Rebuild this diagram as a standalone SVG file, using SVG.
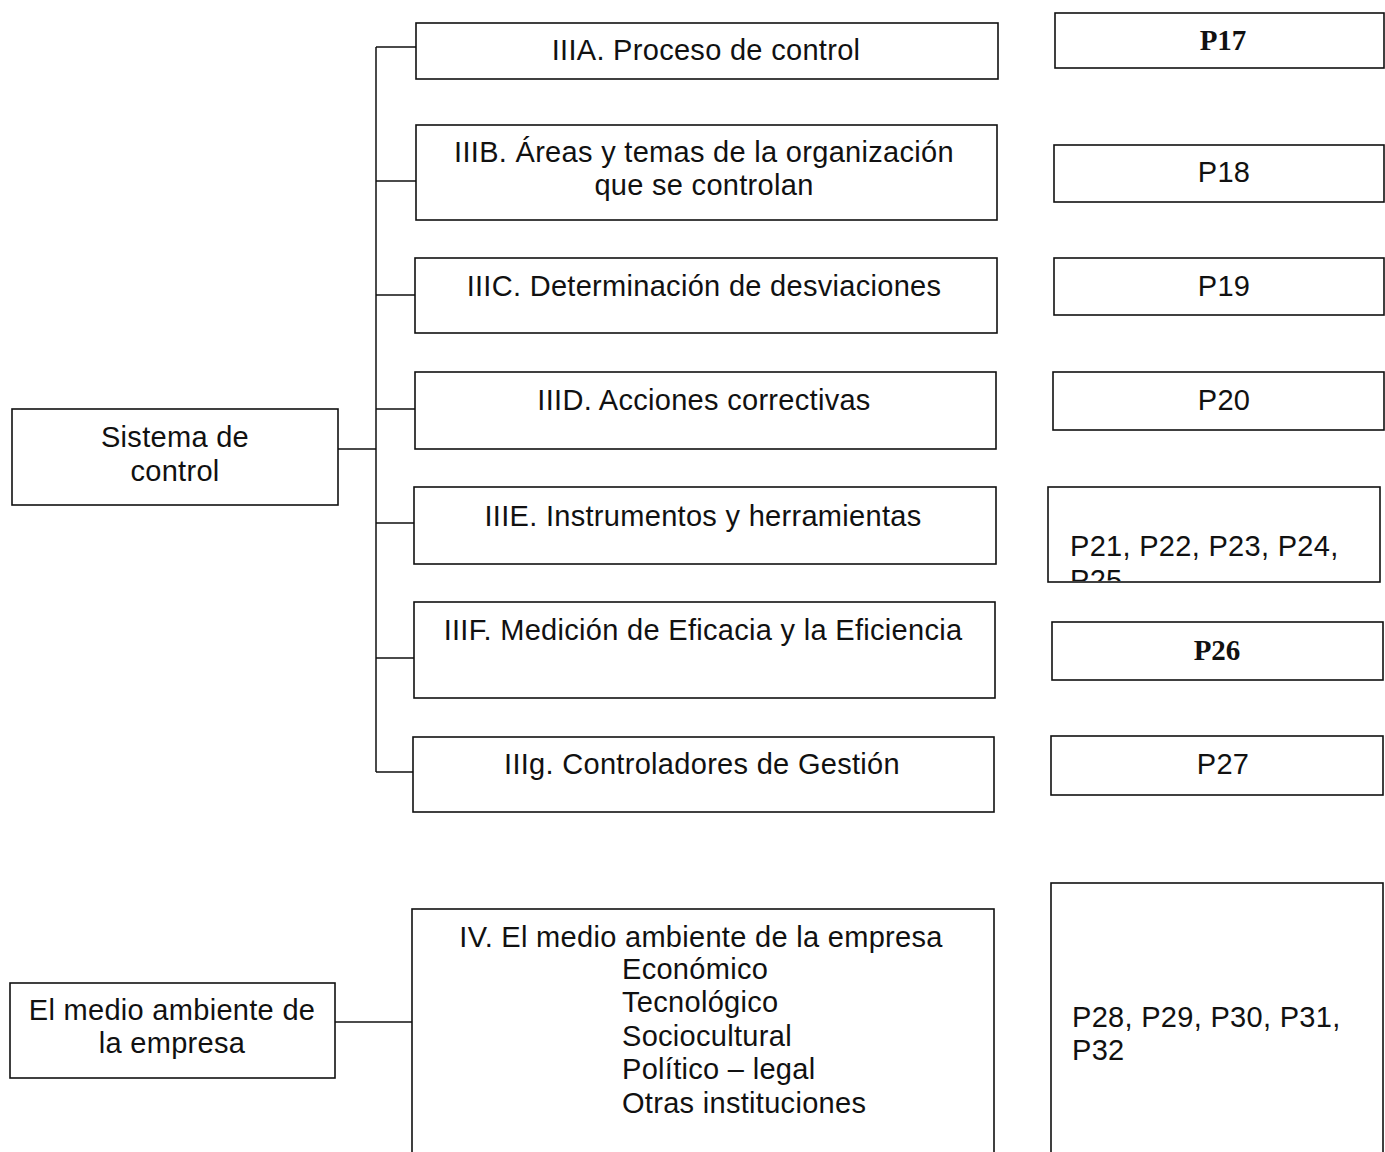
<svg xmlns="http://www.w3.org/2000/svg" width="1385" height="1152" viewBox="0 0 1385 1152">
<style>
.box{fill:#fff;stroke:#111;stroke-width:1.6}
.t{font-family:"Liberation Sans",Arial,sans-serif;font-size:29px;letter-spacing:0.3px;fill:#111}
.s{font-family:"Liberation Serif","Times New Roman",serif;font-size:29px;font-weight:bold;fill:#111}
.c{text-anchor:middle}
.ln{fill:none;stroke:#111;stroke-width:1.5}
</style>
<defs>
<clipPath id="clipP21"><rect x="1048" y="487" width="332" height="94"/></clipPath>
</defs>
<rect width="1385" height="1152" fill="#fff"/>
<g id="connectors">
<path class="ln" d="M338 449 H376 M376 47 V772 M376 47 H416 M376 181 H416 M376 295 H415 M376 409 H415 M376 523 H414 M376 658 H414 M376 772 H413"/>
<path class="ln" d="M335 1022 H412"/>
</g>
<g id="sistema">
<rect class="box" x="12" y="409" width="326" height="96"/>
<text class="t c" x="175" y="447">Sistema de</text>
<text class="t c" x="175" y="481">control</text>
</g>
<g id="medio">
<rect class="box" x="10" y="983" width="325" height="95"/>
<text class="t c" x="172" y="1020">El medio ambiente de</text>
<text class="t c" x="172" y="1053">la empresa</text>
</g>
<g id="IIIA">
<rect class="box" x="416" y="23" width="582" height="56"/>
<text class="t c" x="706" y="60">IIIA. Proceso de control</text>
</g>
<g id="IIIB">
<rect class="box" x="416" y="125" width="581" height="95"/>
<text class="t c" x="704" y="162">IIIB. Áreas y temas de la organización</text>
<text class="t c" x="704" y="195">que se controlan</text>
</g>
<g id="IIIC">
<rect class="box" x="415" y="258" width="582" height="75"/>
<text class="t c" x="704" y="296">IIIC. Determinación de desviaciones</text>
</g>
<g id="IIID">
<rect class="box" x="415" y="372" width="581" height="77"/>
<text class="t c" x="704" y="410">IIID. Acciones correctivas</text>
</g>
<g id="IIIE">
<rect class="box" x="414" y="487" width="582" height="77"/>
<text class="t c" x="703" y="526">IIIE. Instrumentos y herramientas</text>
</g>
<g id="IIIF">
<rect class="box" x="414" y="602" width="581" height="96"/>
<text class="t c" x="703" y="640">IIIF. Medición de Eficacia y la Eficiencia</text>
</g>
<g id="IIIg">
<rect class="box" x="413" y="737" width="581" height="75"/>
<text class="t c" x="702" y="774">IIIg. Controladores de Gestión</text>
</g>
<g id="IV">
<rect class="box" x="412" y="909" width="582" height="260"/>
<text class="t c" x="701" y="947">IV. El medio ambiente de la empresa</text>
<text class="t" x="622" y="979">Económico</text>
<text class="t" x="622" y="1012">Tecnológico</text>
<text class="t" x="622" y="1046">Sociocultural</text>
<text class="t" x="622" y="1079">Político – legal</text>
<text class="t" x="622" y="1113">Otras instituciones</text>
</g>
<g id="P17">
<rect class="box" x="1055" y="13" width="329" height="55"/>
<text class="s c" x="1223" y="50">P17</text>
</g>
<g id="P18">
<rect class="box" x="1054" y="145" width="330" height="57"/>
<text class="t c" x="1224" y="182">P18</text>
</g>
<g id="P19">
<rect class="box" x="1054" y="258" width="330" height="57"/>
<text class="t c" x="1224" y="296">P19</text>
</g>
<g id="P20">
<rect class="box" x="1053" y="372" width="331" height="58"/>
<text class="t c" x="1224" y="410">P20</text>
</g>
<g id="P21">
<rect class="box" x="1048" y="487" width="332" height="95"/>
<g clip-path="url(#clipP21)">
<text class="t" x="1070" y="556">P21, P22, P23, P24,</text>
<text class="t" x="1070" y="590">P25</text>
</g>
</g>
<g id="P26">
<rect class="box" x="1052" y="622" width="331" height="58"/>
<text class="s c" x="1217" y="660">P26</text>
</g>
<g id="P27">
<rect class="box" x="1051" y="736" width="332" height="59"/>
<text class="t c" x="1223" y="774">P27</text>
</g>
<g id="P28">
<rect class="box" x="1051" y="883" width="332" height="290"/>
<text class="t" x="1072" y="1027">P28, P29, P30, P31,</text>
<text class="t" x="1072" y="1060">P32</text>
</g>
</svg>
